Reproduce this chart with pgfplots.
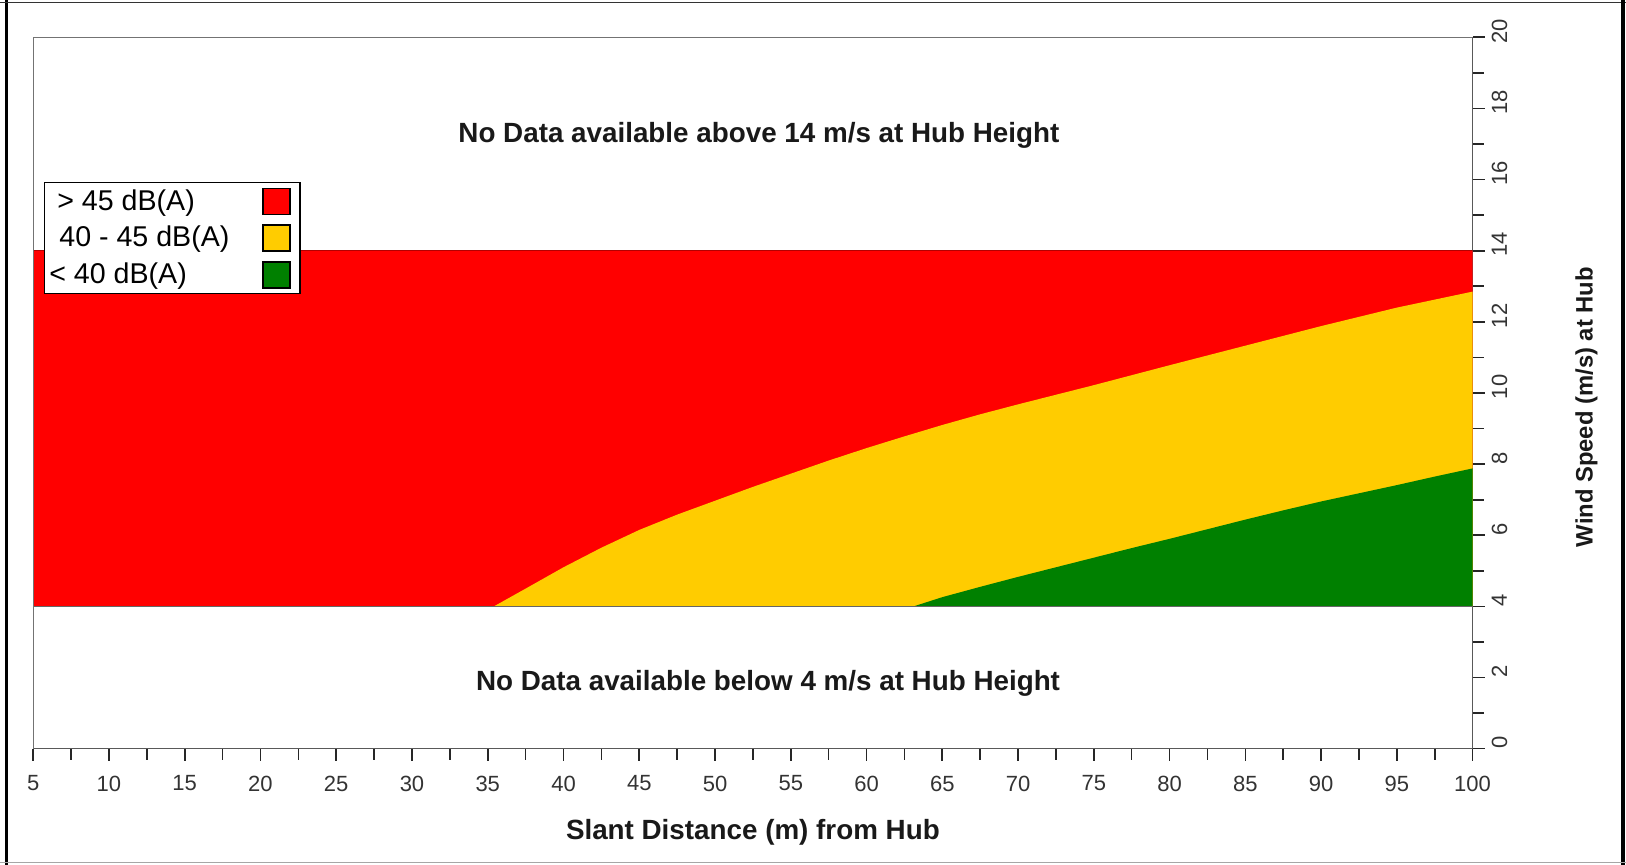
\documentclass[border=0pt]{standalone}
\usepackage{pgfplots}
\pgfplotsset{compat=1.18}
\usepackage{fontspec}
\setmainfont{Liberation Sans}
\definecolor{cred}{RGB}{255,0,0}
\definecolor{cyellow}{RGB}{255,204,0}
\definecolor{cgreen}{RGB}{0,128,0}
\begin{document}
\begin{tikzpicture}
\path[use as bounding box] (0,0) rectangle (813pt,432.5pt);
% outer frame
\draw[black, line width=1.6pt] (3.25pt,0) -- (3.25pt,432.5pt);
\draw[black!80, line width=0.8pt] (0,431.2pt) -- (813pt,431.2pt);
\draw[black, line width=1.6pt] (811.5pt,0) -- (811.5pt,432.5pt);
\draw[black!35, line width=0.8pt] (0,1.2pt) -- (813pt,1.2pt);
\begin{axis}[
  at={(16.6pt,58.15pt)}, anchor=south west,
  scale only axis, width=719.7pt, height=355.7pt,
  xmin=5, xmax=100, ymin=0, ymax=20,
  axis x line*=bottom, axis y line*=right,
  axis line style={black!65, line width=0.7pt},
  xtick={5,10,...,100}, minor x tick num=1,
  ytick={0,2,...,20}, minor y tick num=1,
  tick align=outside,
  major tick length=6pt, minor tick length=5.5pt,
  every tick/.style={black!85, line width=0.8pt},
  /pgf/number format/assume math mode=true,
  ticklabel style={font=\fontsize{11}{13}\selectfont, text=black!80},
  xticklabel style={yshift=-4pt},
  yticklabel style={rotate=90, anchor=north, xshift=3pt},
  xlabel={Slant Distance (m) from Hub},
  xlabel style={at={(axis description cs:0.5,-0.118)}, anchor=center, font=\fontsize{13.9}{16}\selectfont\bfseries, text=black!90},
  ylabel={Wind Speed (m/s) at Hub},
  ylabel style={at={(axis description cs:1.0792,0.48)}, anchor=center, rotate=0, font=\fontsize{11.9}{14}\selectfont\bfseries, text=black!90},
  legend plot pos=right,
  legend cell align=left,
  legend image code/.code={\draw[#1, draw=black, line width=0.7pt] (0pt,-6.5pt) rectangle (13.5pt,6.5pt); \path (18pt,0pt);},
  legend style={at={(0.0072,0.797)}, anchor=north west, draw=black, line width=0.8pt,
    font=\fontsize{14.3}{15}\selectfont, inner xsep=0.5pt, inner ysep=1.5pt, row sep=2.5pt,
    /tikz/every odd column/.append style={column sep=14.5pt}},
]
% > 45 dB(A) region
\addplot[fill=cred, draw=none] coordinates {(5,4) (100,4) (100,14) (5,14)} -- cycle;
\addlegendentry{\hspace{4pt}> 45 dB(A)}
% 40 - 45 dB(A) region
\addplot[fill=cyellow, draw=none] coordinates {
  (35.4,4) (37.5,4.5) (40,5.1) (42.5,5.65) (45,6.15) (47.5,6.58) (50,6.97)
  (52.5,7.36) (55,7.73) (57.5,8.1) (60,8.45) (62.5,8.78) (65,9.1) (67.5,9.4)
  (70,9.68) (75,10.22) (80,10.78) (85,11.33) (90,11.88) (95,12.4) (100,12.85)
  (100,4)} -- cycle;
\addlegendentry{\hspace{5pt}40 - 45 dB(A)}
% < 40 dB(A) region
\addplot[fill=cgreen, draw=none] coordinates {
  (63.1,4) (65,4.26) (67.5,4.55) (70,4.83) (72.5,5.1) (75,5.37) (77.5,5.64)
  (80,5.9) (82.5,6.17) (85,6.44) (87.5,6.7) (90,6.95) (92.5,7.18) (95,7.41)
  (97.5,7.65) (100,7.88) (100,4)} -- cycle;
\addlegendentry{< 40 dB(A)}
\addplot[forget plot, black!60, line width=0.6pt] coordinates {(5,4) (100,4)};
\addplot[forget plot, red!70!black, line width=0.6pt] coordinates {(5,14) (100,14)};
\draw[black!55, line width=0.8pt] (rel axis cs:0,0) -- (rel axis cs:0,1) -- (rel axis cs:1,1);
\node[font=\fontsize{13.9}{16}\selectfont\bfseries, text=black!90] at (axis cs:52.9,17.25) {No Data available above 14 m/s at Hub Height};
\node[font=\fontsize{13.9}{16}\selectfont\bfseries, text=black!90] at (axis cs:53.5,1.85) {No Data available below 4 m/s at Hub Height};
\end{axis}
\end{tikzpicture}
\end{document}
